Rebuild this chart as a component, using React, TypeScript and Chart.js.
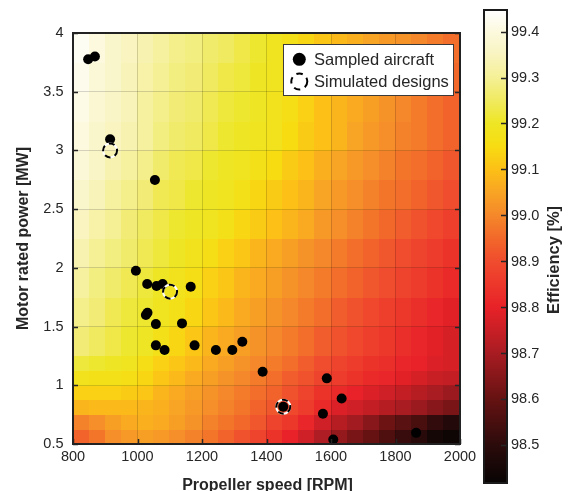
import { useEffect, useRef } from 'react';
import { Chart, registerables } from 'chart.js';

Chart.register(...registerables);

// ---- Data ----
const RPM_CENTERS = [825, 875, 925, 975, 1025, 1075, 1125, 1175, 1225, 1275, 1325, 1375, 1425, 1475, 1525, 1575, 1625, 1675, 1725, 1775, 1825, 1875, 1925, 1975];
// power band edges (MW): finer at the bottom where the map changes fast
const POWER_EDGES = [0.5, 0.625, 0.75, 0.875, 1.0, 1.125, 1.25, 1.5, 1.75, 2.0, 2.25, 2.5, 2.75, 3.0, 3.25, 3.5, 3.75, 4.0];

const EFF_0563 = [98.94, 98.97, 99.01, 99.03, 99.04, 99.03, 99.01, 98.99, 98.97, 98.94, 98.91, 98.88, 98.84, 98.80, 98.76, 98.71, 98.67, 98.63, 98.60, 98.56, 98.52, 98.49, 98.45, 98.43];
const EFF_0688 = [98.99, 99.01, 99.04, 99.06, 99.07, 99.06, 99.04, 99.02, 98.99, 98.97, 98.95, 98.92, 98.88, 98.85, 98.81, 98.76, 98.72, 98.69, 98.65, 98.61, 98.58, 98.55, 98.51, 98.48];
const EFF_0813 = [99.08, 99.09, 99.09, 99.09, 99.08, 99.07, 99.05, 99.03, 99.01, 98.99, 98.97, 98.94, 98.92, 98.89, 98.86, 98.82, 98.78, 98.76, 98.74, 98.72, 98.70, 98.68, 98.65, 98.63];
const EFF_0938 = [99.13, 99.13, 99.13, 99.12, 99.11, 99.08, 99.06, 99.04, 99.02, 99.00, 98.98, 98.96, 98.94, 98.91, 98.88, 98.84, 98.82, 98.80, 98.78, 98.76, 98.74, 98.72, 98.70, 98.68];
const EFF_1063 = [99.18, 99.17, 99.17, 99.16, 99.14, 99.11, 99.09, 99.06, 99.04, 99.02, 99.00, 98.98, 98.96, 98.93, 98.91, 98.88, 98.86, 98.84, 98.82, 98.81, 98.79, 98.77, 98.75, 98.74];
const EFF_1188 = [99.22, 99.21, 99.20, 99.19, 99.16, 99.13, 99.11, 99.09, 99.06, 99.04, 99.02, 99.00, 98.98, 98.96, 98.93, 98.90, 98.88, 98.86, 98.84, 98.83, 98.81, 98.80, 98.78, 98.77];
const EFF_1375 = [99.27, 99.25, 99.23, 99.21, 99.20, 99.17, 99.14, 99.11, 99.08, 99.06, 99.04, 99.02, 99.00, 98.98, 98.96, 98.93, 98.91, 98.89, 98.87, 98.85, 98.83, 98.81, 98.79, 98.77];
const EFF_1625 = [99.29, 99.27, 99.24, 99.22, 99.21, 99.19, 99.17, 99.14, 99.11, 99.09, 99.06, 99.04, 99.02, 99.00, 98.98, 98.96, 98.93, 98.91, 98.89, 98.87, 98.85, 98.83, 98.81, 98.79];
const EFF_1875 = [99.31, 99.28, 99.26, 99.24, 99.22, 99.20, 99.18, 99.16, 99.13, 99.11, 99.08, 99.06, 99.04, 99.02, 99.00, 98.98, 98.96, 98.94, 98.92, 98.90, 98.88, 98.86, 98.84, 98.82];
const EFF_2125 = [99.33, 99.30, 99.28, 99.26, 99.24, 99.22, 99.20, 99.18, 99.16, 99.13, 99.11, 99.08, 99.06, 99.04, 99.02, 99.00, 98.98, 98.96, 98.94, 98.92, 98.90, 98.88, 98.86, 98.84];
const EFF_2375 = [99.35, 99.32, 99.30, 99.27, 99.25, 99.23, 99.21, 99.20, 99.19, 99.17, 99.14, 99.12, 99.10, 99.08, 99.06, 99.03, 99.01, 98.99, 98.97, 98.95, 98.93, 98.91, 98.89, 98.87];
const EFF_2625 = [99.37, 99.34, 99.31, 99.29, 99.27, 99.24, 99.23, 99.21, 99.20, 99.19, 99.17, 99.14, 99.12, 99.10, 99.08, 99.05, 99.03, 99.01, 98.99, 98.97, 98.96, 98.94, 98.92, 98.90];
const EFF_2875 = [99.39, 99.36, 99.33, 99.31, 99.29, 99.26, 99.24, 99.23, 99.21, 99.20, 99.19, 99.17, 99.15, 99.12, 99.10, 99.07, 99.05, 99.03, 99.01, 98.99, 98.97, 98.96, 98.94, 98.92];
const EFF_3125 = [99.40, 99.37, 99.35, 99.33, 99.31, 99.28, 99.26, 99.25, 99.23, 99.21, 99.20, 99.19, 99.18, 99.15, 99.12, 99.10, 99.08, 99.05, 99.03, 99.01, 98.99, 98.98, 98.96, 98.94];
const EFF_3375 = [99.41, 99.38, 99.36, 99.34, 99.31, 99.29, 99.27, 99.26, 99.24, 99.22, 99.21, 99.20, 99.18, 99.16, 99.13, 99.10, 99.08, 99.06, 99.04, 99.02, 99.00, 98.98, 98.96, 98.94];
const EFF_3625 = [99.42, 99.39, 99.37, 99.34, 99.32, 99.30, 99.28, 99.27, 99.25, 99.23, 99.22, 99.20, 99.19, 99.16, 99.13, 99.11, 99.09, 99.06, 99.04, 99.02, 99.01, 98.99, 98.97, 98.95];
const EFF_3875 = [99.43, 99.40, 99.37, 99.35, 99.33, 99.31, 99.29, 99.28, 99.26, 99.25, 99.23, 99.21, 99.19, 99.17, 99.14, 99.11, 99.09, 99.07, 99.05, 99.03, 99.02, 99.00, 98.98, 98.96];
const EFFICIENCY_ROWS = [EFF_0563, EFF_0688, EFF_0813, EFF_0938, EFF_1063, EFF_1188, EFF_1375, EFF_1625, EFF_1875, EFF_2125, EFF_2375, EFF_2625, EFF_2875, EFF_3125, EFF_3375, EFF_3625, EFF_3875];

const SAMPLED_RPM = [847, 868, 915, 1054, 995, 1030, 1059, 1078, 1165, 1026, 1031, 1057, 1138, 1057, 1084, 1177, 1243, 1294, 1325, 1388, 1587, 1633, 1452, 1575, 1607, 1864];
const SAMPLED_MW = [3.776, 3.80, 3.095, 2.748, 1.975, 1.862, 1.845, 1.862, 1.839, 1.598, 1.618, 1.521, 1.527, 1.34, 1.30, 1.34, 1.30, 1.30, 1.371, 1.115, 1.059, 0.888, 0.817, 0.757, 0.539, 0.595];
const SIMULATED_RPM = [915, 1101, 1452];
const SIMULATED_MW = [3.0, 1.797, 0.817];

const X_TICKS = [800, 1000, 1200, 1400, 1600, 1800, 2000];
const Y_TICKS = [0.5, 1, 1.5, 2, 2.5, 3, 3.5, 4];
const Y_TICK_LABELS = ['0.5', '1', '1.5', '2', '2.5', '3', '3.5', '4'];
const CB_TICKS = [98.5, 98.6, 98.7, 98.8, 98.9, 99.0, 99.1, 99.2, 99.3, 99.4];
const CB_TICK_LABELS = ['98.5', '98.6', '98.7', '98.8', '98.9', '99.0', '99.1', '99.2', '99.3', '99.4'];
const CB_MIN = 98.417;
const CB_MAX = 99.447;

// ---- Styling ----
const FONT = "'Liberation Sans', Arial, Helvetica, sans-serif";
const TEXT = '#262626';

const STOPS: [number, number[]][] = [
  [98.417, [8, 4, 4]],
  [98.5, [44, 11, 11]],
  [98.6, [102, 18, 18]],
  [98.7, [168, 28, 34]],
  [98.8, [232, 34, 40]],
  [98.9, [240, 76, 46]],
  [98.95, [242, 104, 42]],
  [99.0, [245, 136, 42]],
  [99.05, [248, 164, 36]],
  [99.1, [252, 192, 22]],
  [99.15, [248, 220, 18]],
  [99.2, [238, 230, 36]],
  [99.25, [240, 234, 96]],
  [99.3, [245, 240, 150]],
  [99.35, [249, 244, 192]],
  [99.4, [252, 249, 222]],
  [99.447, [255, 255, 255]],
];

function colorFor(v: number): string {
  if (v <= STOPS[0][0]) return `rgb(${STOPS[0][1].join(',')})`;
  for (let i = 1; i < STOPS.length; i++) {
    if (v <= STOPS[i][0]) {
      const [a, ca] = STOPS[i - 1];
      const [b, cb] = STOPS[i];
      const t = (v - a) / (b - a);
      const c = ca.map((x, k) => Math.round(x + (cb[k] - x) * t));
      return `rgb(${c.join(',')})`;
    }
  }
  return `rgb(${STOPS[STOPS.length - 1][1].join(',')})`;
}

const heatmapPlugin = {
  id: 'heatmap',
  beforeDraw(chart: any) {
    const { ctx, chartArea, scales } = chart;
    const x = scales.x, y = scales.y;
    const hx = (RPM_CENTERS[1] - RPM_CENTERS[0]) / 2;
    ctx.save();
    ctx.beginPath();
    ctx.rect(chartArea.left, chartArea.top, chartArea.right - chartArea.left, chartArea.bottom - chartArea.top);
    ctx.clip();
    EFFICIENCY_ROWS.forEach((row, j) => {
      const y0 = Math.floor(y.getPixelForValue(POWER_EDGES[j + 1]));
      const y1 = Math.ceil(y.getPixelForValue(POWER_EDGES[j]));
      row.forEach((v, i) => {
        const x0 = Math.floor(x.getPixelForValue(RPM_CENTERS[i] - hx));
        const x1 = Math.ceil(x.getPixelForValue(RPM_CENTERS[i] + hx));
        ctx.fillStyle = colorFor(v);
        ctx.fillRect(x0, y0, x1 - x0, y1 - y0);
      });
    });
    ctx.restore();
  },
};

function dashedCircle(ctx: CanvasRenderingContext2D, cx: number, cy: number, r: number) {
  ctx.save();
  ctx.lineWidth = 2;
  ctx.setLineDash([]);
  ctx.strokeStyle = '#ffffff';
  ctx.beginPath();
  ctx.arc(cx, cy, r, 0, Math.PI * 2);
  ctx.stroke();
  ctx.strokeStyle = '#000000';
  ctx.setLineDash([6, 4.5]);
  ctx.beginPath();
  ctx.arc(cx, cy, r, 0, Math.PI * 2);
  ctx.stroke();
  ctx.restore();
}

const overlayPlugin = {
  id: 'overlay',
  afterDatasetsDraw(chart: any) {
    const ctx = chart.ctx;
    const meta = chart.getDatasetMeta(1);
    meta.data.forEach((el: any) => dashedCircle(ctx, el.x, el.y, 7));
  },
  afterDraw(chart: any) {
    const { ctx, chartArea, scales } = chart;
    const { left, right, top, bottom } = chartArea;
    ctx.save();
    // ticks inward
    ctx.strokeStyle = TEXT;
    ctx.lineWidth = 1.5;
    ctx.beginPath();
    X_TICKS.forEach((v) => {
      const px = Math.round(scales.x.getPixelForValue(v)) + 0.5;
      ctx.moveTo(px, bottom);
      ctx.lineTo(px, bottom - 5);
    });
    Y_TICKS.forEach((v) => {
      const py = Math.round(scales.y.getPixelForValue(v)) + 0.5;
      ctx.moveTo(left, py);
      ctx.lineTo(left + 5, py);
      ctx.moveTo(right, py);
      ctx.lineTo(right - 5, py);
    });
    ctx.stroke();
    // frame
    ctx.lineWidth = 2;
    ctx.strokeStyle = '#222222';
    ctx.strokeRect(left, top, right - left, bottom - top);

    // legend
    const lx = 283, ly = 44, lw = 170, lh = 51;
    ctx.fillStyle = '#ffffff';
    ctx.fillRect(lx, ly, lw, lh);
    ctx.lineWidth = 1;
    ctx.strokeStyle = '#3a3a3a';
    ctx.strokeRect(lx + 0.5, ly + 0.5, lw, lh);
    ctx.fillStyle = '#000000';
    ctx.beginPath();
    ctx.arc(299.3, 59.3, 6.5, 0, Math.PI * 2);
    ctx.fill();
    ctx.save();
    ctx.lineWidth = 2;
    ctx.strokeStyle = '#000';
    ctx.setLineDash([6.5, 5]);
    ctx.beginPath();
    ctx.arc(299.3, 81.5, 8, 0, Math.PI * 2);
    ctx.stroke();
    ctx.restore();
    ctx.fillStyle = TEXT;
    ctx.font = `16.5px ${FONT}`;
    ctx.textAlign = 'left';
    ctx.textBaseline = 'middle';
    ctx.fillText('Sampled aircraft', 314, 60);
    ctx.fillText('Simulated designs', 314, 82);

    // axis titles
    ctx.font = `bold 16px ${FONT}`;
    ctx.textAlign = 'center';
    ctx.textBaseline = 'alphabetic';
    ctx.fillText('Propeller speed [RPM]', (left + right) / 2 + 1, 489.5);
    ctx.save();
    ctx.translate(27.5, (top + bottom) / 2);
    ctx.rotate(-Math.PI / 2);
    ctx.fillText('Motor rated power [MW]', 0, 0);
    ctx.restore();

    // colorbar
    const cbL = 484, cbR = 507, cbT = 10, cbB = 483;
    const vToY = (v: number) => cbB - ((v - CB_MIN) / (CB_MAX - CB_MIN)) * (cbB - cbT);
    for (let py = cbT; py < cbB; py++) {
      const v = CB_MAX - ((py + 0.5 - cbT) / (cbB - cbT)) * (CB_MAX - CB_MIN);
      ctx.fillStyle = colorFor(v);
      ctx.fillRect(cbL, py, cbR - cbL, 1);
    }
    ctx.strokeStyle = TEXT;
    ctx.lineWidth = 1.5;
    ctx.beginPath();
    CB_TICKS.forEach((v) => {
      const py = Math.round(vToY(v)) + 0.5;
      ctx.moveTo(cbR, py);
      ctx.lineTo(cbR - 6, py);
    });
    ctx.stroke();
    ctx.lineWidth = 2;
    ctx.strokeStyle = '#1a1a1a';
    ctx.strokeRect(cbL, cbT, cbR - cbL, cbB - cbT);
    ctx.fillStyle = TEXT;
    ctx.font = `14.5px ${FONT}`;
    ctx.textAlign = 'left';
    ctx.textBaseline = 'middle';
    CB_TICKS.forEach((v, i) => {
      ctx.fillText(CB_TICK_LABELS[i], 511, vToY(v) + 0.5);
    });
    ctx.font = `bold 16.5px ${FONT}`;
    ctx.textAlign = 'center';
    ctx.textBaseline = 'alphabetic';
    ctx.save();
    ctx.translate(559, 260);
    ctx.rotate(-Math.PI / 2);
    ctx.fillText('Efficiency [%]', 0, 0);
    ctx.restore();
    ctx.restore();
  },
};

export default function App() {
  const ref = useRef<HTMLCanvasElement>(null);
  useEffect(() => {
    if (!ref.current) return;
    const chart = new Chart(ref.current, {
      type: 'scatter',
      data: {
        datasets: [
          {
            label: 'Sampled aircraft',
            data: SAMPLED_RPM.map((r, i) => ({ x: r, y: SAMPLED_MW[i] })),
            backgroundColor: '#000000',
            borderWidth: 0,
            pointRadius: 5,
            order: 2,
          },
          {
            label: 'Simulated designs',
            data: SIMULATED_RPM.map((r, i) => ({ x: r, y: SIMULATED_MW[i] })),
            backgroundColor: 'rgba(0,0,0,0)',
            borderColor: 'rgba(0,0,0,0)',
            borderWidth: 0,
            pointRadius: 7,
            order: 1,
          },
        ],
      },
      options: {
        animation: false,
        responsive: false,
        devicePixelRatio: 1,
        events: [],
        layout: { padding: { left: 0, top: 33, right: 109, bottom: 0 } },
        plugins: { legend: { display: false }, tooltip: { enabled: false } },
        scales: {
          x: {
            type: 'linear',
            min: 800,
            max: 2000,
            afterFit: (s: any) => { s.height = 47; },
            afterBuildTicks: (s: any) => { s.ticks = X_TICKS.map((v) => ({ value: v })); },
            ticks: {
              padding: 4,
              autoSkip: false,
              maxRotation: 0,
              color: TEXT,
              font: { family: FONT, size: 14.5 },
              callback: (v: any) => String(v),
            },
            grid: { color: 'rgba(0,0,0,0.16)', lineWidth: 1, drawTicks: false },
            border: { display: false },
          },
          y: {
            type: 'linear',
            min: 0.5,
            max: 4,
            afterFit: (s: any) => { s.width = 73; },
            afterBuildTicks: (s: any) => { s.ticks = Y_TICKS.map((v) => ({ value: v })); },
            ticks: {
              padding: 9.5,
              autoSkip: false,
              color: TEXT,
              font: { family: FONT, size: 14.5 },
              callback: (v: any) => {
                const i = Y_TICKS.indexOf(Number(v));
                return i >= 0 ? Y_TICK_LABELS[i] : '';
              },
            },
            grid: { color: 'rgba(0,0,0,0.16)', lineWidth: 1, drawTicks: false },
            border: { display: false },
          },
        },
      },
      plugins: [heatmapPlugin, overlayPlugin],
    } as any);
    return () => chart.destroy();
  }, []);
  return (
    <div style={{ position: 'absolute', left: 0, top: 0, width: 569, height: 491, background: '#fff' }}>
      <canvas ref={ref} width={569} height={491} style={{ display: 'block' }} />
    </div>
  );
}
